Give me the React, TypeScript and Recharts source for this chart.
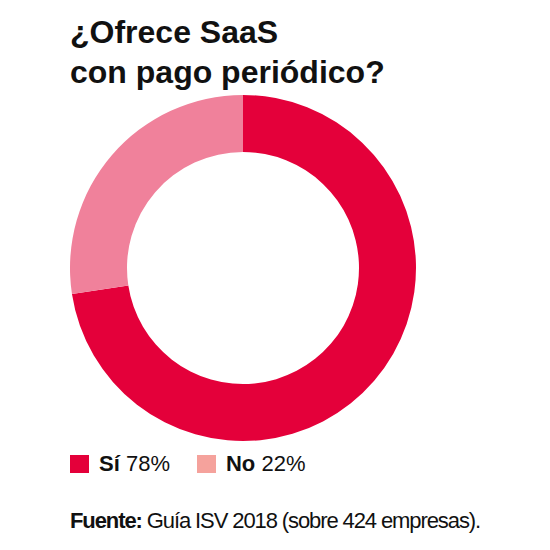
import { Cell, Pie, PieChart } from "recharts";

// answers and the share of the ring each one takes in the drawing
const answers = ["Sí", "No"];
const shares = [72.6, 27.4];
const legendLabels = ["78%", "22%"];
const sliceColors = ["#e4003a", "#f0819b"];
const legendColors = ["#e4003a", "#f5a29c"];

const titleLines = ["¿Ofrece SaaS", "con pago periódico?"];
const sourceLabel = "Fuente:";
const sourceText = "Guía ISV 2018 (sobre 424 empresas).";

const data = answers.map((name, i) => ({ name, value: shares[i] }));

const FONT = "'Liberation Sans', Arial, Helvetica, sans-serif";

export default function App() {
  return (
    <div style={{ position: "relative", width: 534, height: 534, fontFamily: FONT, color: "#111" }}>
      <div
        style={{
          position: "absolute",
          left: 62,
          top: 4,
          fontSize: 32,
          lineHeight: "40px",
          fontWeight: 700,
          whiteSpace: "nowrap",
        }}
      >
        {titleLines.map((t) => (
          <div key={t}>{t}</div>
        ))}
      </div>

      <div style={{ position: "absolute", left: 0, top: 0 }}>
        <PieChart width={534} height={450} margin={{ top: 0, right: 0, bottom: 0, left: 0 }}>
          <Pie
            data={data}
            dataKey="value"
            nameKey="name"
            cx={235}
            cy={260}
            innerRadius={116}
            outerRadius={173}
            startAngle={90}
            endAngle={-270}
            stroke="none"
            isAnimationActive={false}
          >
            {data.map((d, i) => (
              <Cell key={d.name} fill={sliceColors[i]} />
            ))}
          </Pie>
        </PieChart>
      </div>

      <div
        style={{
          position: "absolute",
          left: 62,
          top: 444,
          display: "flex",
          alignItems: "center",
          fontSize: 22,
          lineHeight: "24px",
          whiteSpace: "nowrap",
        }}
      >
        {answers.map((name, i) => (
          <div key={name} style={{ display: "flex", alignItems: "center", marginRight: i === 0 ? 27 : 0 }}>
            <span
              style={{
                display: "inline-block",
                width: 19,
                height: 18,
                background: legendColors[i],
                marginRight: 10,
              }}
            />
            <span>
              <b>{name}</b> {legendLabels[i]}
            </span>
          </div>
        ))}
      </div>

      <div
        style={{
          position: "absolute",
          left: 62,
          top: 500,
          fontSize: 22,
          lineHeight: "26px",
          letterSpacing: -1.1,
          whiteSpace: "nowrap",
        }}
      >
        <b>{sourceLabel}</b> {sourceText}
      </div>
    </div>
  );
}
